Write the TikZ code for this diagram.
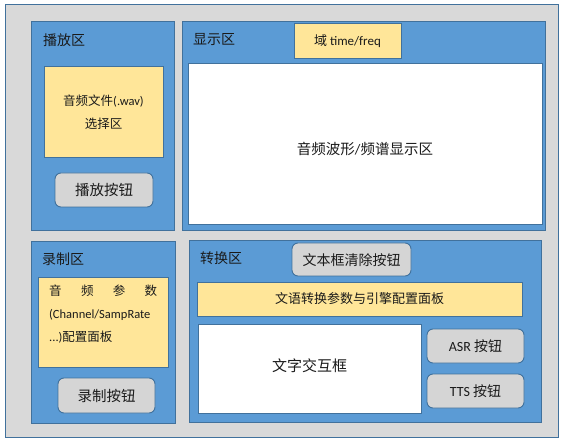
\documentclass[tikz,border=0pt]{standalone}
\usepackage{fontspec}
\setmainfont{Carlito}
\newfontfamily\cjk{Noto Sans CJK SC}
\definecolor{bggray}{HTML}{D9D9D9}
\definecolor{edge}{HTML}{41719C}
\definecolor{regblue}{HTML}{5B9BD5}
\definecolor{panelyellow}{HTML}{FFE699}
\definecolor{btngray}{HTML}{D5D5D5}
\definecolor{txt}{HTML}{1A1A1A}
\begin{document}
\begin{tikzpicture}[x=1pt,y=-1pt,
  region/.style={draw=edge,fill=regblue,line width=0.8pt},
  panel/.style={draw=edge,fill=panelyellow,line width=0.6pt},
  whitebox/.style={draw=edge,fill=white,line width=0.6pt},
  btn/.style={draw=edge,fill=btngray,line width=0.9pt,rounded corners=6pt},
  lbl/.style={anchor=west,inner sep=0pt,text=txt,font=\fontsize{14}{16}\selectfont\cjk},
  btntext/.style={inner sep=0pt,text=txt,font=\fontsize{14.5}{17}\selectfont\cjk},
  ptext/.style={inner sep=0pt,text=txt,font=\fontsize{12.5}{15}\selectfont}
]
\useasboundingbox (0,0) rectangle (564,443);
\fill[white] (0,0) rectangle (564,443);
% outer
\draw[draw=edge,fill=bggray,line width=0.8pt] (5,4) rectangle (558,437);

% playback region
\draw[region] (31,21) rectangle (174,230);
\node[lbl] (playlbl) at (43,40) {播放区};
\draw[panel] (44,66) rectangle (163,157);
\node[ptext,align=center,font=\fontsize{12.5}{23}\selectfont] (filesel) at (103.5,112) {{\cjk 音频文件}(.wav)\\{\cjk 选择区}};
\draw[btn] (55,173) rectangle (153,207);
\node[btntext] (playbtn) at (104,190) {播放按钮};

% display region
\draw[region] (182,21) rectangle (545,230);
\node[lbl] (displbl) at (193,40) {显示区};
\draw[whitebox] (188,63) rectangle (542,224);
\draw[panel] (294,23) rectangle (401,58);
\node[ptext,font=\fontsize{13}{15}\selectfont] (domain) at (347.5,41) {{\cjk 域} time/freq};
\node[btntext,font=\fontsize{14.5}{17}\selectfont] (wave) at (365,149) {{\cjk 音频波形}/{\cjk 频谱显示区}};

% record region
\draw[region] (31,241) rectangle (175,423);
\node[lbl] (reclbl) at (42,259) {录制区};
\draw[panel] (38,277) rectangle (168,367);
\node[ptext,anchor=north west,text width=108pt,align=left,font=\fontsize{12.5}{23}\selectfont] (params) at (49,285)
  {\makebox[\linewidth][s]{\cjk 音\hfill 频\hfill 参\hfill 数}\\(Channel/SampRate\\...){\cjk 配置面板}};
\draw[btn] (58,378) rectangle (155,413);
\node[btntext] (recbtn) at (106.5,395.5) {录制按钮};

% convert region
\draw[region] (189,240) rectangle (541,422);
\node[lbl] (convlbl) at (200,258) {转换区};
\draw[btn] (292,243) rectangle (411,276);
\node[btntext,font=\fontsize{14}{16}\selectfont\cjk] (clearbtn) at (351.5,260) {文本框清除按钮};
\draw[panel] (197,282) rectangle (522,316);
\node[ptext,font=\fontsize{13}{15}\selectfont\cjk] (engine) at (359.5,299) {文语转换参数与引擎配置面板};
\draw[whitebox] (198,324) rectangle (421,413);
\node[btntext,font=\fontsize{15}{17}\selectfont\cjk] (textbox) at (309.5,366) {文字交互框};
\draw[btn] (427,329) rectangle (524,363);
\node[btntext,font=\fontsize{14}{16}\selectfont] (asr) at (475.5,346) {ASR {\cjk 按钮}};
\draw[btn] (427,374) rectangle (524,408);
\node[btntext,font=\fontsize{14}{16}\selectfont] (tts) at (475.5,391) {TTS {\cjk 按钮}};
\end{tikzpicture}
\end{document}
